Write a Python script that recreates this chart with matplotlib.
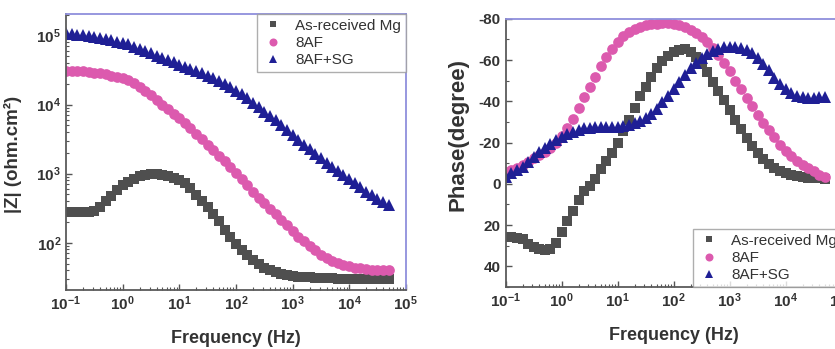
import math
import matplotlib
matplotlib.use("Agg")
import matplotlib.pyplot as plt
from matplotlib.ticker import FuncFormatter, LogLocator, MultipleLocator, NullFormatter

# frecuencias del barrido (Hz), 10 puntos por decada
freq = [0.1, 0.126, 0.158, 0.2, 0.251, 0.316, 0.398, 0.501, 0.631, 0.794,
        1, 1.26, 1.58, 2, 2.51, 3.16, 3.98, 5.01, 6.31, 7.94,
        10, 12.6, 15.8, 20, 25.1, 31.6, 39.8, 50.1, 63.1, 79.4,
        100, 126, 158, 200, 251, 316, 398, 501, 631, 794,
        1000, 1260, 1580, 2000, 2510, 3160, 3980, 5010, 6310, 7940,
        10000, 12600, 15800, 20000, 25100, 31600, 39800, 50100]

# |Z| (ohm.cm2)
z_mg = [282, 282, 282, 282, 282, 288, 331, 398, 479, 575,
        676, 759, 851, 912, 955, 977, 977, 955, 912, 871,
        813, 724, 617, 490, 398, 331, 263, 204, 155, 120,
        95.5, 79.4, 66.1, 56.2, 49.0, 43.7, 39.8, 37.2, 35.5, 33.9,
        33.1, 32.4, 31.6, 31.6, 30.9, 30.9, 30.9, 30.9, 30.2, 30.2,
        30.2, 30.2, 30.2, 30.2, 30.2, 30.2, 30.2, 30.2]
z_8af = [30900, 30900, 30200, 30200, 29500, 28800, 28200, 27500, 26300, 25100,
         24000, 22400, 20400, 18200, 15800, 13800, 11700, 10000, 8510, 7410,
         6310, 5370, 4570, 3800, 3160, 2630, 2190, 1820, 1510, 1260,
         1020, 832, 676, 550, 447, 372, 309, 257, 214, 178,
         148, 123, 105, 89.1, 77.6, 67.6, 60.3, 55.0, 51.3, 47.9,
         45.7, 43.7, 42.7, 41.7, 40.7, 40.7, 39.8, 39.8]
z_8af_sg = [107000, 105000, 102000, 100000, 97700, 95500, 91200, 89100, 85100, 81300,
            77600, 74100, 69200, 64600, 60300, 56200, 51300, 47900, 43700, 40700,
            38000, 35500, 32400, 30200, 28200, 25700, 24000, 21900, 20000, 17800,
            15800, 14100, 12300, 10700, 9330, 7940, 6760, 5890, 5010, 4270,
            3630, 3090, 2630, 2290, 1950, 1700, 1450, 1260, 1100, 955,
            832, 724, 631, 550, 490, 437, 389, 355]

# fase (grados)
ph_mg = [26, 26, 26.5, 27, 29, 30.5, 31.5, 32, 31.5, 28.5,
         23.5, 18, 13, 8, 3.5, 1, -2.5, -7, -11, -15,
         -20, -25.5, -31, -37, -42.5, -47, -52, -56, -59.5, -62,
         -64, -65, -65.3, -64, -61.5, -58, -54, -49.5, -45, -40.5,
         -36, -31, -26.5, -22, -18.5, -15, -12, -9.5, -7.5, -6,
         -5, -4.3, -3.8, -3.3, -3, -2.8, -2.6, -2.4]
ph_8af = [-5.5, -6.5, -7.5, -9, -10.5, -12.5, -14, -15.5, -17.5, -20,
          -23, -27, -31.5, -37, -42, -47, -52, -57, -61.5, -65.5,
          -69, -71.5, -73.5, -75, -76, -76.8, -77.3, -77.6, -77.8, -77.8,
          -77.5, -77, -76, -74.8, -73.2, -71.2, -68.8, -66, -62.5, -58.5,
          -54.5, -50, -46, -41.5, -37.5, -33.5, -29.5, -26, -22.5, -19,
          -16, -13.5, -11, -9, -7.5, -6, -4.5, -3.5]
ph_8af_sg = [-3.5, -5, -6.5, -8, -10.5, -13, -15.5, -17.5, -19.5, -21,
             -22.5, -24, -25.3, -26.2, -27, -27.3, -27.5, -27.6, -27.5, -27.4,
             -27.4, -27.8, -28.5, -29.3, -30.3, -31.8, -34, -36.5, -39.5, -42.5,
             -46, -49.5, -53, -56, -58.5, -61, -63, -64.5, -65.5, -66.2,
             -66.5, -66.5, -66, -65, -63.2, -61, -58, -55, -51.5, -48.5,
             -46, -44, -42.8, -42, -41.7, -41.7, -42, -42.3]

labels = ["As-received Mg", "8AF", "8AF+SG"]
z_ticks = [100, 1000, 10000, 100000]

plt.rcParams['font.family'] = ['Liberation Sans', 'DejaVu Sans']
plt.rcParams['mathtext.fontset'] = 'custom'
plt.rcParams['mathtext.rm'] = 'Liberation Sans'
plt.rcParams['mathtext.bf'] = 'Liberation Sans:bold'

txt = '#333333'
estilos = [('s', '#4f4f4f', 6.6), ('o', '#dc5aae', 7.7), ('^', '#1f1f95', 8.3)]

fig = plt.figure(figsize=(8.35, 3.49), dpi=100)
ax1 = fig.add_axes([0.079, 0.169, 0.407, 0.791])
ax2 = fig.add_axes([0.6056, 0.178, 0.4024, 0.768])

for datos, (m, c, ms), lab in zip([z_mg, z_8af, z_8af_sg], estilos, labels):
    ax1.plot(freq, datos, linestyle='none', marker=m, color=c, ms=ms, mew=0, label=lab)
for datos, (m, c, ms), lab in zip([ph_mg, ph_8af, ph_8af_sg], estilos, labels):
    ax2.plot(freq, datos, linestyle='none', marker=m, color=c, ms=ms, mew=0, label=lab)

exp_fmt = FuncFormatter(lambda v, p: r'$\mathbf{10^{%d}}$' % round(math.log10(v)))

ax1.set_xscale('log')
ax1.set_yscale('log')
ax1.set_xlim(0.1, 1e5)
ax1.set_ylim(20.7, 2.05e5)
ax1.set_yticks(z_ticks)
ax1.yaxis.set_major_formatter(exp_fmt)
ax1.yaxis.set_minor_formatter(NullFormatter())
ax1.set_ylabel('|Z| (ohm.cm²)', fontsize=13.5, fontweight='bold', color=txt)
ax1.yaxis.set_label_coords(-0.128, 0.49)

ax2.set_xscale('log')
ax2.set_xlim(0.1, 1e5)
ax2.set_ylim(50, -80)
ax2.yaxis.set_major_locator(MultipleLocator(20))
ax2.yaxis.set_minor_locator(MultipleLocator(10))
ax2.set_ylabel('Phase(degree)', fontsize=16, fontweight='bold', color=txt)
ax2.yaxis.set_label_coords(-0.112, 0.57)

for ax in (ax1, ax2):
    ax.xaxis.set_major_locator(LogLocator(base=10, numticks=10))
    ax.xaxis.set_minor_locator(LogLocator(base=10, subs=range(2, 10), numticks=20))
    ax.xaxis.set_minor_formatter(NullFormatter())
    ax.xaxis.set_major_formatter(exp_fmt)
    ax.set_xlabel('Frequency (Hz)', fontsize=13, fontweight='bold', color=txt, labelpad=12)
    ax.tick_params(which='both', direction='in', colors='#555555', labelcolor=txt,
                   labelsize=11, top=False, right=False)
    ax.tick_params(which='major', length=4, width=1)
    ax.tick_params(which='minor', length=2, width=0.8)
    for s in ('left', 'bottom'):
        ax.spines[s].set_color('#5a5a5a')
        ax.spines[s].set_linewidth(1.3)
    for s in ('top', 'right'):
        ax.spines[s].set_color('#8f8fdc')
        ax.spines[s].set_linewidth(1.3)

ax2.yaxis.set_major_formatter(FuncFormatter(lambda v, p: '%d' % v))
for lbl in ax2.get_yticklabels():
    lbl.set_fontweight('bold')

for ax, loc in ((ax1, 'upper right'), (ax2, 'lower right')):
    leg = ax.legend(loc=loc, fontsize=11, frameon=True, fancybox=False,
                    borderaxespad=0, borderpad=0.3, labelspacing=0.22,
                    handlelength=1.5, handletextpad=0.7, markerscale=0.75)
    leg.get_frame().set_edgecolor('#9a9a9a')
    leg.get_frame().set_linewidth(1.0)
    for t in leg.get_texts():
        t.set_color(txt)

fig.savefig('out.png', dpi=100)
